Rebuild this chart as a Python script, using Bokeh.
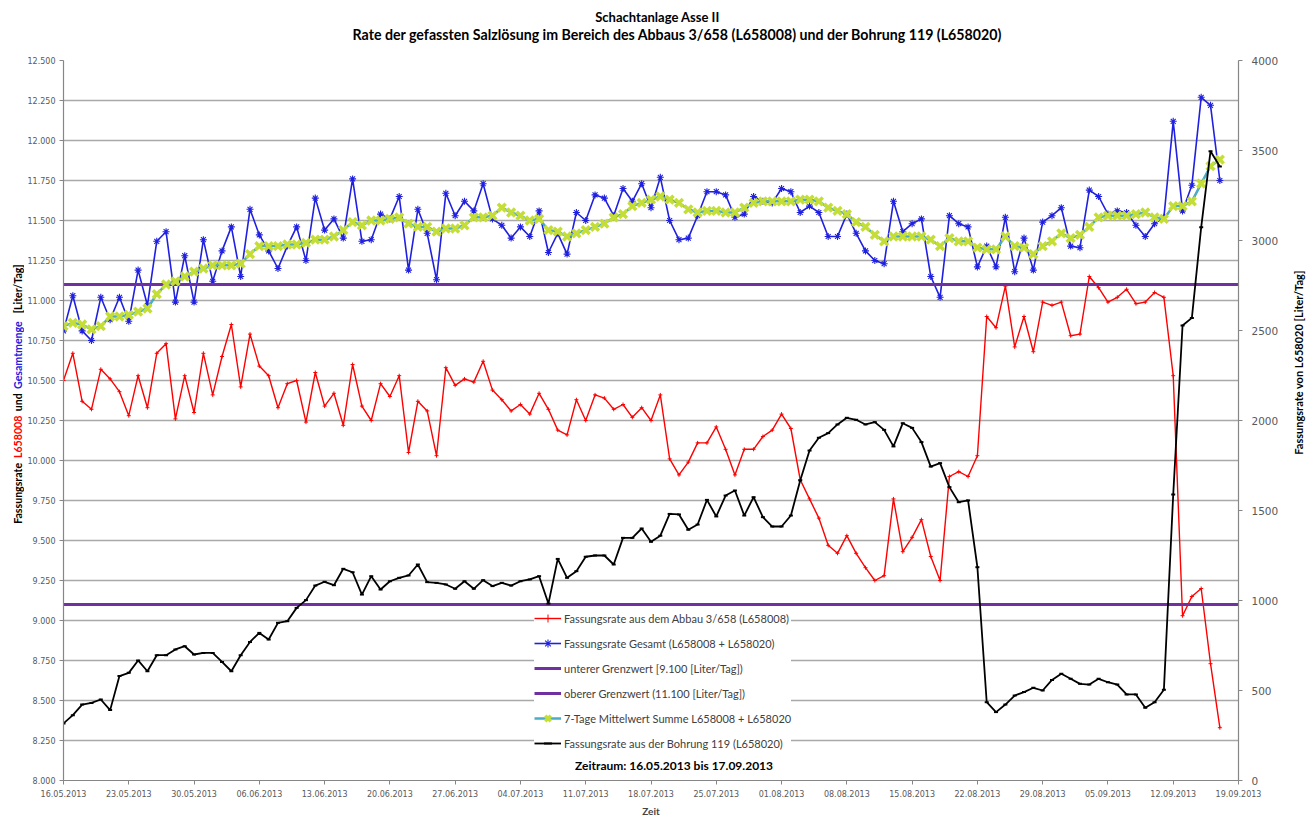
import math
from datetime import datetime
import pandas as pd
from bokeh.plotting import figure
from bokeh.layouts import row, column
from bokeh.models import (Range1d, LinearAxis, FixedTicker, PrintfTickFormatter,
                          DatetimeTickFormatter, Legend, LegendItem, Label)
from bokeh.core.properties import value
from bokeh.embed import file_html
from bokeh.resources import INLINE

# ---------------- data ----------------
start_date = "16.05.2013"
end_date = "17.09.2013"

# Fassungsrate aus dem Abbau 3/658 (L658008) [Tsd. Liter/Tag]
red = [10.50, 10.67, 10.37, 10.32, 10.57, 10.51, 10.43, 10.28, 10.53, 10.33,
       10.67, 10.73, 10.26, 10.53, 10.30, 10.67, 10.41, 10.65, 10.85, 10.46,
       10.79, 10.59, 10.53, 10.33, 10.48, 10.50, 10.24, 10.55, 10.34, 10.42,
       10.22, 10.60, 10.34, 10.25, 10.48, 10.40, 10.53, 10.05, 10.37, 10.31,
       10.03, 10.58, 10.47, 10.51, 10.49, 10.62, 10.44, 10.38, 10.31, 10.35,
       10.29, 10.42, 10.32, 10.19, 10.16, 10.38, 10.25, 10.41, 10.39, 10.32,
       10.35, 10.27, 10.33, 10.25, 10.41, 10.01, 9.91, 9.99, 10.11, 10.11,
       10.21, 10.07, 9.91, 10.07, 10.07, 10.15, 10.19, 10.29, 10.20, 9.88,
       9.76, 9.64, 9.47, 9.42, 9.53, 9.42, 9.33, 9.25, 9.28, 9.76,
       9.43, 9.52, 9.63, 9.40, 9.25, 9.90, 9.93, 9.90, 10.03, 10.90,
       10.83, 11.09, 10.71, 10.90, 10.68, 10.99, 10.97, 10.99, 10.78, 10.79,
       11.15, 11.08, 10.99, 11.02, 11.07, 10.98, 10.99, 11.05, 11.02, 10.53,
       9.03, 9.15, 9.20, 8.73, 8.33]

# Fassungsrate Gesamt (L658008 + L658020) [Tsd. Liter/Tag]
blue = [10.81, 11.03, 10.81, 10.75, 11.02, 10.88, 11.02, 10.87, 11.19, 10.97,
        11.37, 11.43, 10.99, 11.28, 10.99, 11.38, 11.12, 11.31, 11.46, 11.15,
        11.57, 11.41, 11.31, 11.20, 11.34, 11.46, 11.25, 11.64, 11.44, 11.51,
        11.39, 11.76, 11.37, 11.38, 11.54, 11.51, 11.65, 11.19, 11.57, 11.42,
        11.13, 11.67, 11.53, 11.62, 11.56, 11.73, 11.51, 11.47, 11.39, 11.46,
        11.40, 11.56, 11.30, 11.42, 11.29, 11.55, 11.50, 11.66, 11.64, 11.53,
        11.70, 11.62, 11.73, 11.58, 11.77, 11.50, 11.38, 11.39, 11.53, 11.68,
        11.68, 11.66, 11.52, 11.54, 11.65, 11.62, 11.61, 11.70, 11.68, 11.55,
        11.59, 11.55, 11.40, 11.40, 11.54, 11.42, 11.31, 11.25, 11.23, 11.62,
        11.43, 11.48, 11.51, 11.15, 11.02, 11.53, 11.48, 11.46, 11.21, 11.34,
        11.21, 11.52, 11.18, 11.39, 11.19, 11.49, 11.53, 11.58, 11.34, 11.33,
        11.69, 11.65, 11.54, 11.56, 11.55, 11.47, 11.40, 11.48, 11.52, 12.12,
        11.56, 11.72, 12.27, 12.22, 11.75]

# 7-Tage Mittelwert Summe L658008 + L658020 [Tsd. Liter/Tag]
green = [10.84, 10.86, 10.85, 10.82, 10.84, 10.90, 10.90, 10.91, 10.93, 10.95,
         11.04, 11.10, 11.12, 11.15, 11.18, 11.20, 11.22, 11.22, 11.22, 11.23,
         11.29, 11.34, 11.34, 11.34, 11.35, 11.35, 11.36, 11.38, 11.38, 11.40,
         11.44, 11.49, 11.47, 11.50, 11.50, 11.51, 11.52, 11.48, 11.46, 11.46,
         11.43, 11.45, 11.45, 11.47, 11.52, 11.52, 11.53, 11.58, 11.55, 11.53,
         11.50, 11.51, 11.44, 11.43, 11.40, 11.42, 11.44, 11.46, 11.48, 11.52,
         11.54, 11.59, 11.61, 11.63, 11.65, 11.63, 11.61, 11.57, 11.55, 11.56,
         11.56, 11.55, 11.55, 11.58, 11.61, 11.62, 11.62, 11.62, 11.62, 11.63,
         11.63, 11.62, 11.58, 11.56, 11.54, 11.49, 11.46, 11.41, 11.37, 11.40,
         11.40, 11.40, 11.40, 11.38, 11.34, 11.39, 11.37, 11.37, 11.33, 11.32,
         11.32, 11.40, 11.34, 11.33, 11.29, 11.34, 11.37, 11.42, 11.39, 11.41,
         11.46, 11.52, 11.53, 11.53, 11.53, 11.54, 11.55, 11.52, 11.51, 11.59,
         11.59, 11.62, 11.73, 11.84, 11.88]

# Fassungsrate aus der Bohrung 119 (L658020) [Liter/Tag], right axis
black = [317, 363, 422, 431, 450, 391, 580, 598, 667, 607,
         696, 696, 728, 746, 700, 709, 709, 659, 607, 696,
         770, 820, 783, 876, 885, 959, 1002, 1083, 1104, 1085,
         1176, 1157, 1033, 1135, 1061, 1107, 1126, 1139, 1200, 1102,
         1098, 1089, 1065, 1107, 1065, 1113, 1080, 1098, 1083, 1107,
         1117, 1135, 983, 1231, 1126, 1163, 1243, 1250, 1250, 1200,
         1348, 1348, 1400, 1326, 1360, 1481, 1478, 1393, 1422, 1559,
         1467, 1583, 1611, 1472, 1574, 1463, 1411, 1411, 1472, 1667,
         1833, 1904, 1930, 1978, 2015, 2004, 1978, 1991, 1948, 1856,
         1985, 1959, 1880, 1744, 1763, 1630, 1546, 1556, 1185, 435,
         380, 422, 472, 491, 515, 500, 559, 593, 565, 537,
         533, 565, 546, 533, 478, 478, 404, 435, 504, 1589,
         2528, 2570, 3074, 3496, 3411]

lower_limit = 9.1
upper_limit = 11.1

x_tick_labels = ["16.05.2013", "23.05.2013", "30.05.2013", "06.06.2013", "13.06.2013",
                 "20.06.2013", "27.06.2013", "04.07.2013", "11.07.2013", "18.07.2013",
                 "25.07.2013", "01.08.2013", "08.08.2013", "15.08.2013", "22.08.2013",
                 "29.08.2013", "05.09.2013", "12.09.2013", "19.09.2013"]
left_ticks = [8.0, 8.25, 8.5, 8.75, 9.0, 9.25, 9.5, 9.75, 10.0, 10.25,
              10.5, 10.75, 11.0, 11.25, 11.5, 11.75, 12.0, 12.25, 12.5]
right_ticks = [0, 500, 1000, 1500, 2000, 2500, 3000, 3500, 4000]

legend_labels = ["Fassungsrate aus dem Abbau 3/658 (L658008)",
                 "Fassungsrate Gesamt (L658008 + L658020)",
                 "unterer Grenzwert [9.100 [Liter/Tag])",
                 "oberer Grenzwert (11.100 [Liter/Tag])",
                 "7-Tage Mittelwert Summe L658008 + L658020",
                 "Fassungsrate aus der Bohrung 119 (L658020)"]

title1 = "Schachtanlage Asse II"
title2 = "Rate der gefassten Salzlösung im Bereich des Abbaus 3/658 (L658008) und der Bohrung 119 (L658020)"
period_text = "Zeitraum: 16.05.2013 bis  17.09.2013"
right_label = "Fassungsrate von L658020  [Liter/Tag]"
left_label_parts = ["Fassungsrate", "L658008", "und", "Gesamtmenge", "[Liter/Tag]"]
left_label_colors = ["#000000", "#ff0000", "#000000", "#2020e0", "#000000"]

# ---------------- layout constants ----------------
FONT = "Lato"
TOP_H = 48
LEFT_W = 24
MAIN_W = 1259
RIGHT_W = 25
MAIN_H = 771
TOTAL_W = LEFT_W + MAIN_W + RIGHT_W

def to_ts(s):
    return pd.Timestamp(datetime.strptime(s, "%d.%m.%Y"))

def ms(t):
    return t.value / 1e6

DAY = 86400000.0
dates = pd.date_range(to_ts(start_date), to_ts(end_date), freq="D")
n = min(len(dates), len(red), len(blue), len(green), len(black))
dates = dates[:n]
red, blue, green, black = red[:n], blue[:n], green[:n], black[:n]

x0 = ms(to_ts(x_tick_labels[0]))
x1 = ms(to_ts(x_tick_labels[-1]))

# ---------------- main figure ----------------
p = figure(width=MAIN_W, height=MAIN_H, x_axis_type="datetime", output_backend="svg",
           toolbar_location=None, x_range=Range1d(x0, x1), y_range=Range1d(8.0, 12.5),
           min_border_left=39, min_border_right=45, min_border_top=12, min_border_bottom=39)
p.outline_line_color = None
p.extra_y_ranges = {"right": Range1d(0, 4000)}

p.xgrid.visible = False
p.ygrid.ticker = FixedTicker(ticks=left_ticks)
p.ygrid.grid_line_color = "#a9a9a9"
p.ygrid.grid_line_width = 1.6

xa = p.xaxis[0]
xa.ticker = FixedTicker(ticks=[ms(to_ts(s)) for s in x_tick_labels])
fmt = "%d.%m.%Y"
xa.formatter = DatetimeTickFormatter(days=fmt, months=fmt, years=fmt, hours=fmt,
                                     hourmin=fmt, minutes=fmt, minsec=fmt, seconds=fmt,
                                     milliseconds=fmt, microseconds=fmt)
xa.axis_label = "Zeit"
xa.axis_label_text_font = FONT
xa.axis_label_text_font_style = "bold"
xa.axis_label_text_font_size = "10px"
xa.axis_label_standoff = 5

ya = p.yaxis[0]
ya.ticker = FixedTicker(ticks=left_ticks)
ya.formatter = PrintfTickFormatter(format="%.3f")

ra = LinearAxis(y_range_name="right", ticker=FixedTicker(ticks=right_ticks))
p.add_layout(ra, "right")

for ax, fs in ((xa, "8px"), (ya, "8px"), (ra, "10.5px")):
    ax.axis_line_color = "#868686"
    ax.axis_line_width = 1.2
    ax.major_tick_line_color = "#868686"
    ax.major_tick_in = 0
    ax.major_tick_out = 4
    ax.minor_tick_line_color = None
    ax.major_label_text_font = "DejaVu Sans"
    ax.major_label_text_font_size = fs
    ax.major_label_text_color = "#595959"
ya.major_label_standoff = 4
xa.major_label_standoff = 5
ra.major_label_standoff = 9

r_red_l = p.line(dates, red, line_color="#ff0000", line_width=1.4)
r_red_m = p.scatter(dates, red, marker="cross", size=4, line_color="#ff0000", line_width=1)

r_blue_l = p.line(dates, blue, line_color="#2020e0", line_width=1.6)
r_blue_m = p.scatter(dates, blue, marker="asterisk", size=7, line_color="#2020e0", line_width=1.1)

r_low = p.line([x0, x1], [lower_limit, lower_limit], line_color="#7030a0", line_width=3)
r_up = p.line([x0, x1], [upper_limit, upper_limit], line_color="#7030a0", line_width=3)

r_green_l = p.line(dates, green, line_color="#4bacc6", line_width=2.5)
r_green_m = p.scatter(dates, green, marker="x", size=11, line_color="#c5de35", line_width=3.5)

r_black_l = p.line(dates, black, y_range_name="right", line_color="#000000", line_width=1.8)
r_black_m = p.scatter(dates, black, y_range_name="right", marker="dash", size=4,
                      line_color="#000000", line_width=2)

items = [LegendItem(label=legend_labels[0], renderers=[r_red_l, r_red_m]),
         LegendItem(label=legend_labels[1], renderers=[r_blue_l, r_blue_m]),
         LegendItem(label=legend_labels[2], renderers=[r_low]),
         LegendItem(label=legend_labels[3], renderers=[r_up]),
         LegendItem(label=legend_labels[4], renderers=[r_green_l, r_green_m]),
         LegendItem(label=legend_labels[5], renderers=[r_black_l, r_black_m])]
legend = Legend(items=items, location=(471, 27), padding=3, margin=0, spacing=5,
                glyph_width=27, glyph_height=20, label_height=20, label_standoff=3,
                label_text_font=FONT, label_text_font_size="11px", label_text_color="#404040",
                border_line_color=None, background_fill_color="white", background_fill_alpha=1.0)
p.add_layout(legend)

px_per_day = 1175.0 / 126.0
p.add_layout(Label(x=x0 + (675 - 63) / px_per_day * DAY, y=12.5 - (765 - 60) / 160.0,
                   text=period_text, text_align="center", text_baseline="middle",
                   text_font=FONT, text_font_style="bold", text_font_size="12px",
                   text_color="#000000"))

# ---------------- text panels around the main figure ----------------
def text_panel(w, h):
    f = figure(width=w, height=h, x_range=Range1d(0, w), y_range=Range1d(h, 0),
               output_backend="svg", toolbar_location=None, min_border=0,
               x_axis_location=None, y_axis_location=None)
    f.outline_line_color = None
    f.xgrid.visible = False
    f.ygrid.visible = False
    return f

top = text_panel(TOTAL_W, TOP_H)
top.text(x=[657], y=[16], text=[title1], text_align="center",
         text_baseline="middle", text_font=value(FONT), text_font_style="bold",
         text_font_size="13px", text_color="#000000")
top.text(x=[677], y=[34], text=[title2], text_align="center",
         text_baseline="middle", text_font=value(FONT), text_font_style="bold",
         text_font_size="14.2px", text_color="#000000")

left = text_panel(LEFT_W, MAIN_H)
left_y_page = [511.5, 451, 414, 363.5, 292.5]
left.text(x=[17] * len(left_label_parts), y=[y - TOP_H for y in left_y_page],
          text=left_label_parts, angle=math.pi / 2, text_align="center",
          text_baseline="middle", text_font=value(FONT), text_font_style="bold",
          text_font_size="10.6px", text_color=left_label_colors)

right = text_panel(RIGHT_W, MAIN_H)
right.text(x=[15], y=[370 - TOP_H], text=[right_label], angle=math.pi / 2,
           text_align="center", text_baseline="middle", text_font=value(FONT),
           text_font_style="bold", text_font_size="11px", text_color="#000000")

layout = column(top, row(left, p, right))
open("out.html", "w").write(file_html(layout, INLINE))
